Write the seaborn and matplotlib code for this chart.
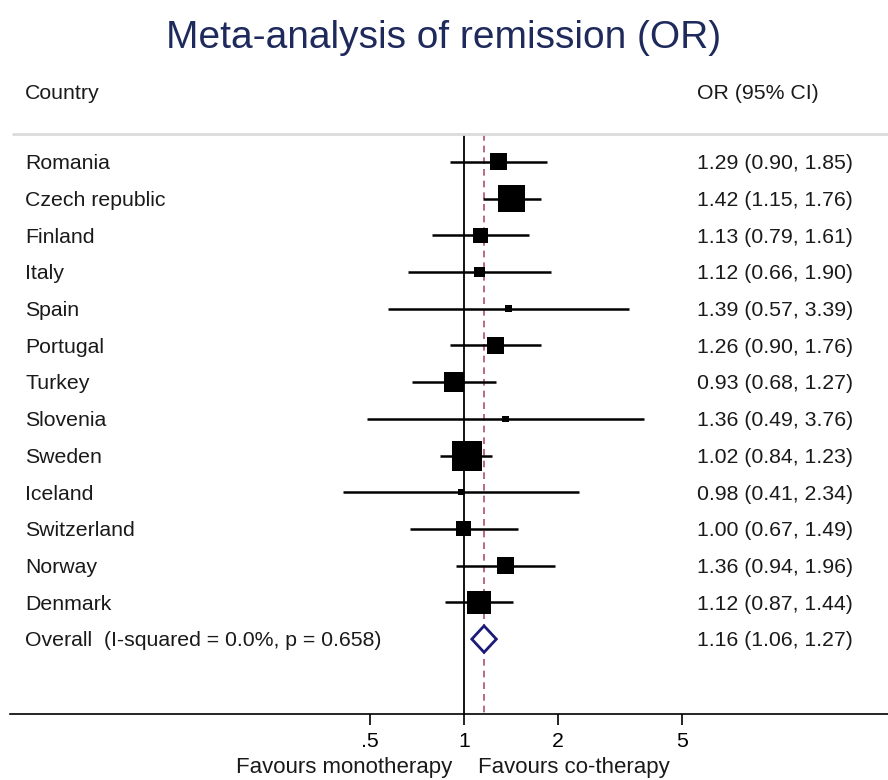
import numpy as np
import pandas as pd
import matplotlib.pyplot as plt
import matplotlib.transforms as mtransforms
from matplotlib.patches import Polygon
import seaborn as sns

sns.set_theme(style="white")
plt.rcParams['font.family'] = ['Liberation Sans', 'DejaVu Sans']

# --- DATA ---
countries = ['Romania', 'Czech republic', 'Finland', 'Italy', 'Spain', 'Portugal',
             'Turkey', 'Slovenia', 'Sweden', 'Iceland', 'Switzerland', 'Norway', 'Denmark']
odds = [1.29, 1.42, 1.13, 1.12, 1.39, 1.26, 0.93, 1.36, 1.02, 0.98, 1.00, 1.36, 1.12]
lower = [0.90, 1.15, 0.79, 0.66, 0.57, 0.90, 0.68, 0.49, 0.84, 0.41, 0.67, 0.94, 0.87]
upper = [1.85, 1.76, 1.61, 1.90, 3.39, 1.76, 1.27, 3.76, 1.23, 2.34, 1.49, 1.96, 1.44]
weights = [7.0, 18.5, 5.4, 2.7, 1.3, 7.0, 8.9, 1.0, 21.5, 1.0, 5.4, 7.0, 13.3]
overall = 1.16
overall_ci = (1.06, 1.27)
overall_label = 'Overall  (I-squared = 0.0%, p = 0.658)'
xticks = [0.5, 1, 2, 5]
xticklabels = ['.5', '1', '2', '5']

df = pd.DataFrame({'Country': countries, 'OR': odds, 'lo': lower, 'hi': upper, 'w': weights})
df['row'] = np.arange(len(df))
overall_row = len(df)

# --- FIGURE ---
fig = plt.figure(figsize=(8.88, 7.80), dpi=100)
ax = fig.add_axes([10 / 888, 66 / 780, 878 / 888, 594 / 780])
ax.set_xscale('log')
ax.set_xlim(0.0352, 22.8)
ax.set_ylim(15.04, -1.14)

top_row = -0.76
# reference lines
ax.vlines(1, top_row, 15.04, color='black', lw=1.3)
ax.vlines(overall, top_row, 15.04, color='#b0506a', lw=1.2, linestyles=(0, (4, 3)))
ax.axhline(top_row, color='#dcdcdc', lw=2, xmin=3 / 878)

# confidence intervals
ax.hlines(df['row'], df['lo'], df['hi'], color='black', lw=1.8, zorder=3)

# weighted boxes
max_side_pt = 30 * 0.72
sns.scatterplot(data=df, x='OR', y='row', size='w', sizes=(0, max_side_pt ** 2),
                size_norm=(0, max(weights)), marker='s', color='black',
                edgecolor='black', linewidth=0, legend=False, ax=ax, zorder=4)

# overall diamond
dh = 0.36
diamond = Polygon([(overall_ci[0], overall_row), (overall, overall_row - dh),
                   (overall_ci[1], overall_row), (overall, overall_row + dh)],
                  closed=True, facecolor='white', edgecolor='#1c1c78', lw=2, zorder=5)
ax.add_patch(diamond)

# text columns
tr = mtransforms.blended_transform_factory(fig.transFigure, ax.transData)
fs = 15.3
tc = '#1a1a1a'
dy = 0.05
ax.text(25 / 888, -1.91 + dy, 'Country', transform=tr, fontsize=fs, va='center', color=tc)
ax.text(697 / 888, -1.91 + dy, 'OR (95% CI)', transform=tr, fontsize=fs, va='center', color=tc)
for _, r in df.iterrows():
    ax.text(25 / 888, r['row'] + dy, r['Country'], transform=tr, fontsize=fs, va='center', color=tc)
    ax.text(697 / 888, r['row'] + dy, f"{r['OR']:.2f} ({r['lo']:.2f}, {r['hi']:.2f})",
            transform=tr, fontsize=fs, va='center', color=tc)
ax.text(25 / 888, overall_row + dy, overall_label, transform=tr, fontsize=fs, va='center', color=tc)
ax.text(697 / 888, overall_row + dy, f"{overall:.2f} ({overall_ci[0]:.2f}, {overall_ci[1]:.2f})",
        transform=tr, fontsize=fs, va='center', color=tc)

# axis styling
for s in ['top', 'right', 'left']:
    ax.spines[s].set_visible(False)
ax.spines['bottom'].set_color('black')
ax.spines['bottom'].set_linewidth(1.2)
ax.set_yticks([])
ax.set_ylabel('')
ax.set_xlabel('')
ax.set_xticks(xticks)
ax.set_xticklabels(xticklabels, fontsize=fs)
ax.xaxis.set_minor_locator(plt.NullLocator())
ax.tick_params(axis='x', direction='out', length=8, width=1.2, bottom=True, pad=5, colors='black')

fig.text(452 / 888, 13 / 780, 'Favours monotherapy', ha='right', va='center', fontsize=16, color=tc)
fig.text(478 / 888, 13 / 780, 'Favours co-therapy', ha='left', va='center', fontsize=16, color=tc)

fig.suptitle('Meta-analysis of remission (OR)', y=1 - 38 / 780, va='center',
             fontsize=28, color='#1f2a5c')

fig.savefig('out.png', dpi=100)
